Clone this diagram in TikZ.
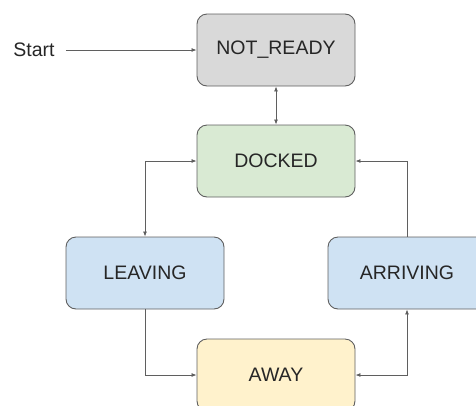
\documentclass[tikz,border=0pt]{standalone}
\usepackage{fontspec}
\setmainfont{Liberation Sans}
\usetikzlibrary{arrows.meta}
\definecolor{edge}{HTML}{5F5F5F}
\definecolor{ink}{HTML}{262626}
\definecolor{grayFill}{HTML}{D9D9D9}
\definecolor{greenFill}{HTML}{D9EAD3}
\definecolor{blueFill}{HTML}{CFE2F3}
\definecolor{yellowFill}{HTML}{FFF2CC}
\begin{document}
\begin{tikzpicture}[x=1pt,y=-1pt,>={Latex[length=5pt,width=4pt]},
    stateBox/.style={draw=edge,line width=0.9pt,rounded corners=10pt,
      minimum width=158pt,minimum height=72pt,text=ink,
      font=\fontsize{19.5}{22}\selectfont},
    link/.style={edge,line width=0.8pt}]
  \useasboundingbox (0,0) rectangle (476,405);
  \clip (0,0) rectangle (476,405);

  % states
  \node[stateBox,fill=grayFill]   (ready)    at (276,50)  {NOT\_READY};
  \node[stateBox,fill=greenFill]  (docked)   at (276,161) {DOCKED};
  \node[stateBox,fill=blueFill]   (leaving)  at (145,273) {LEAVING};
  \node[stateBox,fill=blueFill]   (arriving) at (407,273) {ARRIVING};
  \node[stateBox,fill=yellowFill] (away)     at (276,375) {AWAY};
  \node[text=ink,font=\fontsize{19.5}{22}\selectfont,inner sep=0pt] (start) at (34,50) {Start};
  \coordinate (startTail) at ([xshift=11pt]start.east);

  % transitions
  \draw[link,->]  (startTail) -- (ready.west);
  \draw[link,<->] (ready) -- (docked);
  \draw[link,<->] (leaving.north) |- (docked.west);
  \draw[link,->]  (arriving.north) |- (docked.east);
  \draw[link,->]  (leaving.south) |- (away.west);
  \draw[link,<->] (away.east) -| (arriving.south);
\end{tikzpicture}
\end{document}
